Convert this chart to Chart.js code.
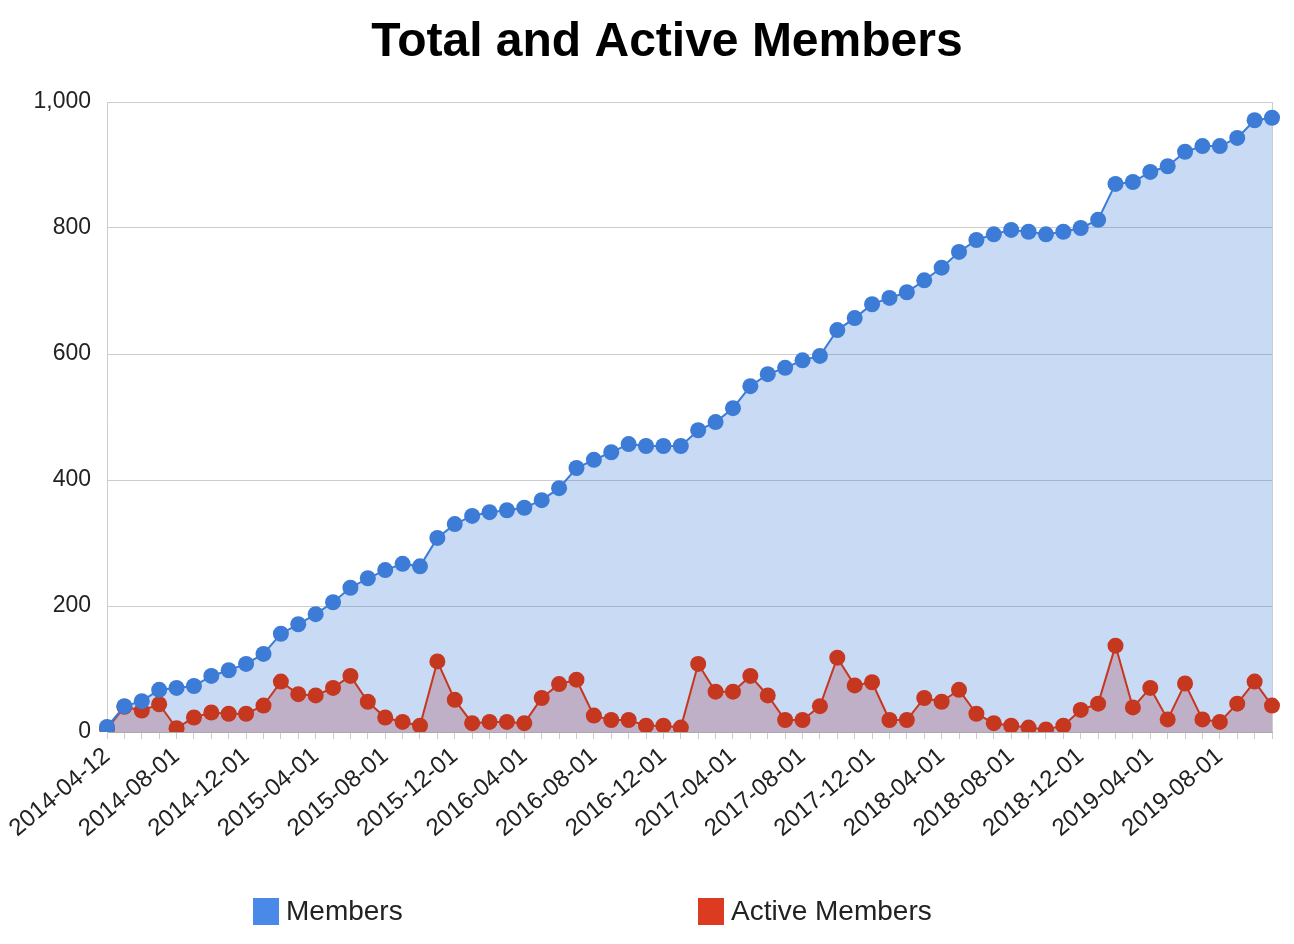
<!DOCTYPE html>
<html>
<head>
<meta charset="utf-8">
<title>Total and Active Members</title>
<script src="https://cdn.jsdelivr.net/npm/chart.js@4.4.0/dist/chart.umd.min.js"></script>
<style>
  html, body { margin: 0; padding: 0; background: #fff; }
  #contenedor { width: 1294px; height: 944px; position: relative; }
</style>
</head>
<body>
<div id="contenedor"><canvas id="grafica"></canvas></div>
<script>
// Fechas (una por mes)
const fechas = [
  '2014-04-12', '2014-05-01', '2014-06-01', '2014-07-01', '2014-08-01', '2014-09-01', '2014-10-01', '2014-11-01', '2014-12-01',
  '2015-01-01', '2015-02-01', '2015-03-01', '2015-04-01', '2015-05-01', '2015-06-01', '2015-07-01', '2015-08-01', '2015-09-01', '2015-10-01', '2015-11-01', '2015-12-01',
  '2016-01-01', '2016-02-01', '2016-03-01', '2016-04-01', '2016-05-01', '2016-06-01', '2016-07-01', '2016-08-01', '2016-09-01', '2016-10-01', '2016-11-01', '2016-12-01',
  '2017-01-01', '2017-02-01', '2017-03-01', '2017-04-01', '2017-05-01', '2017-06-01', '2017-07-01', '2017-08-01', '2017-09-01', '2017-10-01', '2017-11-01', '2017-12-01',
  '2018-01-01', '2018-02-01', '2018-03-01', '2018-04-01', '2018-05-01', '2018-06-01', '2018-07-01', '2018-08-01', '2018-09-01', '2018-10-01', '2018-11-01', '2018-12-01',
  '2019-01-01', '2019-02-01', '2019-03-01', '2019-04-01', '2019-05-01', '2019-06-01', '2019-07-01', '2019-08-01', '2019-09-01', '2019-10-01', '2019-11-01'
];

const miembros = [
  8, 41, 49, 67, 70, 73, 89, 98, 108, 124,
  156, 171, 187, 206, 229, 244, 257, 267, 263, 308,
  330, 343, 349, 352, 356, 368, 387, 419, 432, 444,
  457, 454, 454, 454, 479, 492, 514, 549, 568, 578,
  590, 597, 638, 657, 679, 689, 698, 717, 737, 762,
  781, 790, 797, 794, 790, 794, 800, 813, 870, 873,
  889, 898, 921, 930, 930, 943, 971, 975
];

const activos = [
  5, 40, 34, 44, 6, 23, 31, 29, 29, 42,
  80, 60, 58, 70, 89, 48, 23, 16, 10, 112,
  51, 14, 16, 16, 14, 54, 76, 83, 26, 19,
  19, 10, 10, 7, 108, 64, 64, 89, 58, 19,
  19, 41, 118, 74, 79, 19, 19, 54, 48, 67,
  29, 14, 10, 7, 4, 10, 35, 45, 137, 39,
  70, 20, 77, 20, 16, 45, 80, 42
];

const titulo = 'Total and Active Members';
const nombres = ['Members', 'Active Members'];
const marcasY = [0, 200, 400, 600, 800, 1000];

const fuente = '"Liberation Sans", Arial, Helvetica, sans-serif';

// titulo y leyenda dibujados a mano (titulo descentrado, items de leyenda muy separados)
const textos = {
  id: 'textos',
  afterDraw(chart) {
    const ctx = chart.ctx;
    ctx.save();
    ctx.fillStyle = '#000';
    ctx.font = 'bold 48px ' + fuente;
    ctx.textAlign = 'center';
    ctx.textBaseline = 'alphabetic';
    ctx.fillText(titulo, 667, 56);

    const items = [
      { x: 253, color: '#4a89e8', texto: nombres[0] },
      { x: 698, color: '#dc3b22', texto: nombres[1] }
    ];
    ctx.font = '28px ' + fuente;
    ctx.textAlign = 'left';
    ctx.textBaseline = 'middle';
    items.forEach(it => {
      ctx.fillStyle = it.color;
      ctx.fillRect(it.x, 898, 26, 27);
      ctx.fillStyle = '#222';
      ctx.fillText(it.texto, it.x + 33, 912);
    });
    ctx.restore();
  }
};

const ctx = document.getElementById('grafica').getContext('2d');
const myChart = new Chart(ctx, {
  type: 'line',
  data: {
    labels: fechas,
    datasets: [
      {
        label: nombres[0],
        data: miembros,
        borderColor: '#3c7bd6',
        backgroundColor: 'rgba(60, 123, 214, 0.28)',
        pointBackgroundColor: '#3c7bd6',
        borderWidth: 2,
        pointRadius: 8,
        pointBorderWidth: 0,
        pointHoverRadius: 8,
        fill: '+1'
      },
      {
        label: nombres[1],
        data: activos,
        borderColor: '#c5371f',
        backgroundColor: 'rgba(127, 97, 145, 0.5)',
        pointBackgroundColor: '#c5371f',
        borderWidth: 2,
        pointRadius: 8,
        pointBorderWidth: 0,
        pointHoverRadius: 8,
        fill: 'origin'
      }
    ]
  },
  options: {
    responsive: true,
    maintainAspectRatio: false,
    animation: false,
    layout: { padding: { left: 0, right: 22, top: 102, bottom: 0 } },
    plugins: {
      legend: { display: false },
      tooltip: { enabled: false },
      title: { display: false },
      filler: { drawTime: 'beforeDatasetsDraw' }
    },
    scales: {
      x: {
        afterFit: s => { s.height = 212; },
        grid: {
          color: c => c.index === fechas.length - 1 ? '#cccccc' : 'rgba(0,0,0,0)',
          tickColor: '#cccccc',
          tickLength: 7
        },
        border: { color: '#aaaaaa' },
        ticks: {
          autoSkip: false,
          maxRotation: 40,
          minRotation: 40,
          color: '#222',
          font: { family: fuente, size: 24 },
          callback: (v, i) => i % 4 === 0 ? fechas[i] : ''
        }
      },
      y: {
        min: 0,
        max: 1000,
        afterFit: s => { s.width = 107; },
        afterBuildTicks: s => { s.ticks = marcasY.map(v => ({ value: v })); },
        grid: { color: '#cccccc', drawTicks: false },
        border: { color: '#cccccc' },
        ticks: {
          padding: 16,
          color: '#222',
          font: { family: fuente, size: 23 }
        }
      }
    }
  },
  plugins: [textos]
});
</script>
</body>
</html>
